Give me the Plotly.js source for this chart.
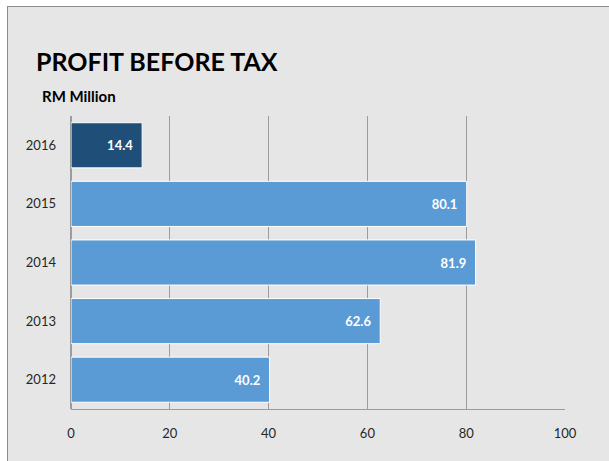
<!DOCTYPE html>
<html>
<head>
<meta charset="utf-8">
<script src="https://cdn.plot.ly/plotly-3.0.1.min.js"></script>
<style>
html,body{margin:0;padding:0;background:#ffffff;width:609px;height:461px;overflow:hidden;}
#frame{position:absolute;left:7px;top:6px;width:602px;height:455px;border-left:1px solid #8c8c8c;border-top:1px solid #8c8c8c;background:#e6e6e6;}
#chart{width:602px;height:455px;}
</style>
</head>
<body>
<div id="frame"><div id="chart"></div></div>
<script>
const years = ['2012', '2013', '2014', '2015', '2016'];
const profit = [40.2, 62.6, 81.9, 80.1, 14.4];
const barColors = ['#5b9bd5', '#5b9bd5', '#5b9bd5', '#5b9bd5', '#1f4e79'];
const xTicks = [0, 20, 40, 60, 80, 100];

const trace = {
  type: 'bar',
  orientation: 'h',
  y: years,
  x: profit,
  marker: {color: barColors, line: {color: '#ffffff', width: 1}},
  text: profit.map(v => v.toFixed(1) + '\u00a0\u00a0'),
  textposition: 'inside',
  insidetextanchor: 'end',
  textfont: {family: 'Lato, sans-serif', size: 13, color: '#ffffff', weight: 'bold'},
  hoverinfo: 'none'
};

const layout = {
  width: 602,
  height: 455,
  margin: {l: 63, r: 45, t: 108.6, b: 52.6},
  paper_bgcolor: '#e6e6e6',
  plot_bgcolor: '#e6e6e6',
  showlegend: false,
  bargap: 0.23,
  font: {family: 'Lato, sans-serif', color: '#404040'},
  title: {
    text: '<b>PROFIT BEFORE TAX</b>',
    font: {family: 'Lato, sans-serif', size: 25, color: '#000000'},
    xref: 'container', yref: 'container',
    x: 0.0465, xanchor: 'left',
    y: 0.879, yanchor: 'middle'
  },
  annotations: [{
    text: '<b>RM Million</b>',
    xref: 'paper', yref: 'paper',
    x: -0.0628, xanchor: 'left',
    y: 1.0667, yanchor: 'middle',
    showarrow: false,
    font: {family: 'Lato, sans-serif', size: 15, color: '#000000'}
  }],
  xaxis: {
    range: [0, 100],
    tickvals: xTicks,
    ticktext: xTicks.map(String),
    showgrid: true,
    gridcolor: '#9c9c9c',
    gridwidth: 1.3,
    zeroline: true,
    zerolinecolor: '#9c9c9c',
    zerolinewidth: 1.3,
    showline: true,
    linecolor: '#9c9c9c',
    linewidth: 1.3,
    ticks: '',
    ticklen: 0,
    ticklabelstandoff: 12,
    tickfont: {family: 'Lato, sans-serif', size: 13, color: '#262626'},
    fixedrange: true
  },
  yaxis: {
    type: 'category',
    categoryorder: 'array',
    categoryarray: years,
    showgrid: false,
    zeroline: false,
    showline: false,
    ticks: '',
    ticklabelstandoff: 14,
    tickfont: {family: 'Lato, sans-serif', size: 13, color: '#262626'},
    fixedrange: true
  }
};

Plotly.newPlot('chart', [trace], layout, {staticPlot: true, displayModeBar: false});
</script>
</body>
</html>
